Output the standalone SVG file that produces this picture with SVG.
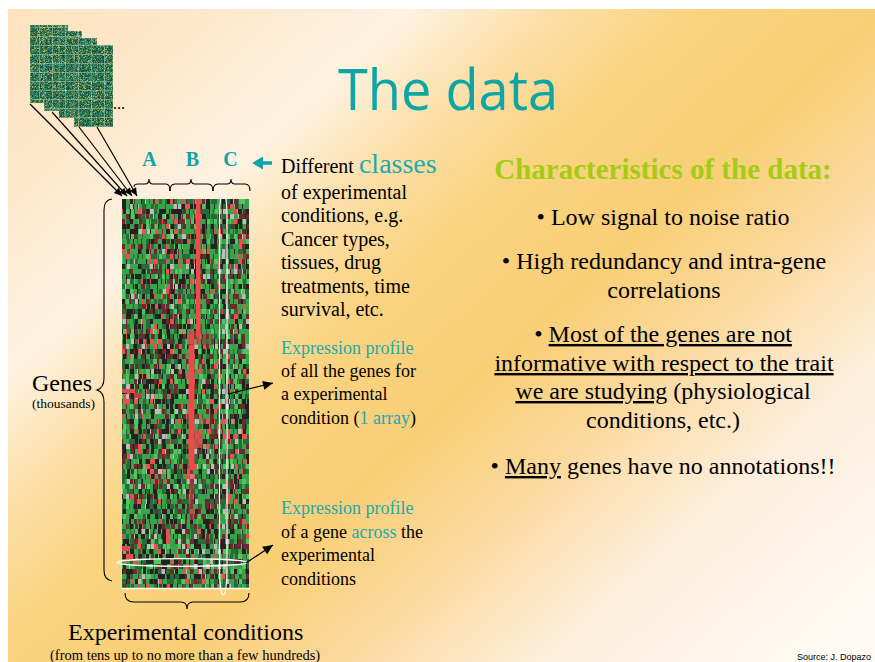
<svg xmlns="http://www.w3.org/2000/svg" width="875" height="662" viewBox="0 0 875 662">
<defs>
<style>
.serif{font-family:"Liberation Serif","Times New Roman",serif;fill:#000}
.teal{fill:#21a9b1}
.conn{stroke:#000;stroke-width:1.2;fill:none}
.brace{stroke:#000;stroke-width:1.1;fill:none}
.ul{text-decoration:underline}
</style>
<linearGradient id="bg" gradientUnits="userSpaceOnUse" x1="0" y1="0" x2="700" y2="770">
<stop offset="0" stop-color="#fde2bd"/>
<stop offset="0.15" stop-color="#fde8cc"/>
<stop offset="0.27" stop-color="#fef2e2"/>
<stop offset="0.36" stop-color="#fce0aa"/>
<stop offset="0.45" stop-color="#fad482"/>
<stop offset="0.58" stop-color="#f9cf76"/>
<stop offset="0.68" stop-color="#fbd89a"/>
<stop offset="0.82" stop-color="#fdeedb"/>
<stop offset="1" stop-color="#fffaf5"/>
</linearGradient>
<marker id="ah" viewBox="0 0 10 10" refX="10" refY="5" markerWidth="9" markerHeight="8" markerUnits="userSpaceOnUse" orient="auto"><path d="M0,0.5 L10,5 L0,9.5 Z" fill="#000"/></marker>
<marker id="ah2" viewBox="0 0 10 10" refX="10" refY="5" markerWidth="12" markerHeight="10" markerUnits="userSpaceOnUse" orient="auto"><path d="M0,0.5 L10,5 L0,9.5 Z" fill="#000"/></marker>
<filter id="hm" filterUnits="userSpaceOnUse" x="122" y="199" width="127" height="389" color-interpolation-filters="sRGB">
<feTurbulence type="fractalNoise" baseFrequency="0.31 0.26" numOctaves="2" seed="11" result="n"/>
<feColorMatrix in="n" type="matrix" values="1 0 0 0 0 1 0 0 0 0 1 0 0 0 0 0 0 0 0 1" result="g"/>
<feFlood x="123" y="201" width="2" height="1" flood-color="#ffffff" flood-opacity="1" result="dot"/>
<feOffset in="dot" dx="0" dy="0" x="122" y="199" width="4" height="5" result="cell"/>
<feTile in="cell" result="grid"/>
<feComposite in="g" in2="grid" operator="in" result="s"/>
<feMorphology in="s" operator="dilate" radius="1 2" result="d"/>
<feComponentTransfer in="d">
<feFuncR type="discrete" tableValues=".23 .14 .42 .32 .16 .23 .14 .23 .42 .74 .23 .16 .32 .14 .42 .23 .93 .23 .16 .14 .16 .23 .42 .14 .32 .23 .74 .42 .23 .14 .23 .16 .93 .23 .14 .32 .42 .23 .16 .14"/>
<feFuncG type="discrete" tableValues=".64 .13 .17 .78 .42 .64 .13 .64 .17 .74 .64 .42 .78 .13 .17 .64 .31 .64 .42 .13 .42 .64 .17 .13 .78 .64 .74 .17 .64 .13 .64 .42 .31 .64 .13 .78 .17 .64 .42 .13"/>
<feFuncB type="discrete" tableValues=".29 .13 .18 .38 .22 .29 .13 .29 .18 .74 .29 .22 .38 .13 .18 .29 .31 .29 .22 .13 .22 .29 .18 .13 .38 .29 .74 .18 .29 .13 .29 .22 .31 .29 .13 .38 .18 .29 .22 .13"/>
</feComponentTransfer>
</filter>
<filter id="chip" x="0" y="0" width="1" height="1" color-interpolation-filters="sRGB">
<feTurbulence type="fractalNoise" baseFrequency="0.8" numOctaves="1" seed="5"/>
<feColorMatrix type="matrix" values="1 0 0 0 0 1 0 0 0 0 1 0 0 0 0 0 0 0 0 1"/>
<feComponentTransfer>
<feFuncR type="discrete" tableValues=".14 .18 .11 .22 .14 .70 .18 .14 .11 .22 .18 .14 .66 .11 .22 .14 .18 .11 .14 .22"/>
<feFuncG type="discrete" tableValues=".40 .56 .30 .48 .40 .68 .56 .40 .30 .48 .56 .40 .66 .30 .48 .40 .56 .30 .40 .48"/>
<feFuncB type="discrete" tableValues=".28 .46 .22 .32 .28 .25 .46 .28 .22 .32 .46 .28 .26 .22 .32 .28 .46 .22 .28 .32"/>
</feComponentTransfer>
</filter>
<pattern id="cgrid" patternUnits="userSpaceOnUse" width="13" height="9">
<rect x="0" y="0" width="13" height="0.8" fill="#ffffff"/>
<rect x="0" y="0" width="0.8" height="9" fill="#ffffff"/>
</pattern>
</defs>

<rect x="0" y="0" width="875" height="662" fill="#ffffff"/>
<rect x="8" y="9" width="867" height="653" fill="url(#bg)"/>

<g id="title">
<text x="338" y="110" font-family="'Comic Sans MS','Open Sans',sans-serif" font-size="56" fill="#0ea5a5" textLength="220" lengthAdjust="spacingAndGlyphs">The data</text>
</g>

<g id="arrays">
<rect x="30" y="25" width="38" height="78" filter="url(#chip)"/>
<rect x="30" y="25" width="38" height="78" fill="url(#cgrid)" opacity="0.4" stroke="#e0e0b0" stroke-width="0.8"/>
<rect x="44" y="31" width="38" height="80" filter="url(#chip)"/>
<rect x="44" y="31" width="38" height="80" fill="url(#cgrid)" opacity="0.4" stroke="#e0e0b0" stroke-width="0.8"/>
<rect x="59" y="38" width="38" height="80" filter="url(#chip)"/>
<rect x="59" y="38" width="38" height="80" fill="url(#cgrid)" opacity="0.4" stroke="#e0e0b0" stroke-width="0.8"/>
<rect x="74" y="45" width="39" height="82" filter="url(#chip)"/>
<rect x="74" y="45" width="39" height="82" fill="url(#cgrid)" opacity="0.4" stroke="#e0e0b0" stroke-width="0.8"/>
<text class="serif" x="113" y="109" font-size="16">...</text>
</g>

<g id="heatmap">
<rect x="122" y="199" width="127" height="389" filter="url(#hm)"/>
<rect x="196" y="199" width="4.5" height="138" fill="#f04a4a"/>
<rect x="187" y="331" width="14" height="14" fill="#d84444" opacity="0.6"/>
<rect x="201" y="334" width="13" height="11" fill="#7a3535" opacity="0.5"/>
<rect x="188.5" y="345" width="6" height="125" fill="#ee4a4a"/>
<rect x="194.5" y="430" width="8" height="18" fill="#e24848" opacity="0.85"/>
<rect x="189" y="470" width="5" height="50" fill="#e04646" opacity="0.55"/>
<rect x="122" y="389" width="12" height="4" fill="#e04a4a"/>
<rect x="134" y="393" width="8" height="5" fill="#c04040"/>
<rect x="122" y="546" width="8" height="5" fill="#e04a4a"/>
<rect x="219.5" y="192" width="7.5" height="403" rx="3.7" ry="24" fill="none" stroke="#ffffff" stroke-width="1.2"/>
<ellipse cx="182" cy="562.5" rx="65" ry="3.8" fill="none" stroke="#ffffff" stroke-width="1.2"/>
<line x1="122" y1="588.5" x2="250" y2="588.5" stroke="#ffffff" stroke-width="1.3"/>
</g>

<g id="braces">
<path class="brace" d="M134,187 Q134,184 138,184 L145,184 Q149,184 149,179 Q149,184 153,184 L166,184 Q170,184 170,191"/>
<path class="brace" d="M170,191 Q170,184 175,184 L187,184 Q191,184 191,179 Q191,184 195,184 L208,184 Q213,184 213,191"/>
<path class="brace" d="M213,191 Q213,184 218,184 L227,184 Q231,184 231,179 Q231,184 235,184 L245,184 Q250,184 250,191"/>
<path class="brace" d="M112,199 Q104,200 104,210 L104,378 Q104,388 97,390 Q104,392 104,402 L104,570 Q104,580 112,581"/>
<path class="brace" d="M125,593 Q125,602 134,602 L181,602 Q187,602 187,609 Q187,602 193,602 L240,602 Q249,602 249,593"/>
</g>

<g id="connectors">
<line class="conn" x1="30" y1="104" x2="122" y2="196" marker-end="url(#ah)"/>
<line class="conn" x1="52" y1="112" x2="127" y2="196" marker-end="url(#ah)"/>
<line class="conn" x1="79" y1="127" x2="132" y2="196" marker-end="url(#ah)"/>
<line class="conn" x1="97" y1="127" x2="137" y2="196" marker-end="url(#ah)"/>
<line class="conn" x1="228" y1="394" x2="273" y2="383" stroke-width="1.5" marker-end="url(#ah2)"/>
<line class="conn" x1="246" y1="563" x2="273" y2="545" stroke-width="1.5" marker-end="url(#ah2)"/>
<path d="M252,163 L263,156.5 L263,161.3 L272,161.3 L272,164.7 L263,164.7 L263,169.5 Z" fill="#12a3a8"/>
</g>

<g id="class-labels" font-family="'Liberation Serif','Times New Roman',serif" font-weight="bold" font-size="20" fill="#12a3a8" text-anchor="middle">
<text x="149.5" y="166">A</text>
<text x="192.5" y="166">B</text>
<text x="230.5" y="166">C</text>
</g>

<g id="classes-text" class="serif" font-size="20">
<text class="serif" x="281" y="173">Different <tspan class="teal" font-size="28">classes</tspan></text>
<text class="serif" x="281" y="199">of experimental</text>
<text class="serif" x="281" y="222">conditions, e.g.</text>
<text class="serif" x="281" y="246">Cancer types,</text>
<text class="serif" x="281" y="269">tissues, drug</text>
<text class="serif" x="281" y="293">treatments, time</text>
<text class="serif" x="281" y="316">survival, etc.</text>
</g>

<g id="profile-array" font-size="18">
<text class="serif teal" x="281" y="354" font-size="18">Expression profile</text>
<text class="serif" x="281" y="377" font-size="18">of all the genes for</text>
<text class="serif" x="281" y="400" font-size="18">a experimental</text>
<text class="serif" x="281" y="424" font-size="18">condition (<tspan class="teal">1 array</tspan>)</text>
</g>

<g id="profile-gene" font-size="18">
<text class="serif teal" x="281" y="514" font-size="18">Expression profile</text>
<text class="serif" x="281" y="538" font-size="18">of a gene <tspan class="teal">across</tspan> the</text>
<text class="serif" x="281" y="561" font-size="18">experimental</text>
<text class="serif" x="281" y="585" font-size="18">conditions</text>
</g>

<g id="genes-label">
<text class="serif" x="32" y="391" font-size="24">Genes</text>
<text class="serif" x="32" y="408" font-size="13.5">(thousands)</text>
</g>

<g id="conditions-label">
<text class="serif" x="68" y="640" font-size="24">Experimental conditions</text>
<text class="serif" x="50" y="660" font-size="14.5">(from tens up to no more than a few hundreds)</text>
</g>

<g id="characteristics" text-anchor="middle">
<text x="663" y="179" font-family="'Liberation Serif','Times New Roman',serif" font-weight="bold" font-size="29" fill="#a2cd14">Characteristics of the data:</text>
<text class="serif" x="663" y="225" font-size="24">• Low signal to noise ratio</text>
<text class="serif" x="664" y="269" font-size="24">• High redundancy and intra-gene</text>
<text class="serif" x="664" y="298" font-size="24">correlations</text>
<text class="serif" x="663" y="342" font-size="24">• <tspan class="ul">Most of the genes are not</tspan></text>
<text class="serif" x="664" y="371" font-size="24"><tspan class="ul">informative with respect to the trait</tspan></text>
<text class="serif" x="663" y="399" font-size="24"><tspan class="ul">we are studying</tspan> (physiological</text>
<text class="serif" x="663" y="428" font-size="24">conditions, etc.)</text>
<text class="serif" x="663" y="474" font-size="24">• <tspan class="ul">Many</tspan> genes have no annotations!!</text>
</g>

<g id="source">
<text x="797" y="660" font-family="'Liberation Sans',Arial,sans-serif" font-size="9" fill="#000">Source: J. Dopazo</text>
</g>
</svg>
